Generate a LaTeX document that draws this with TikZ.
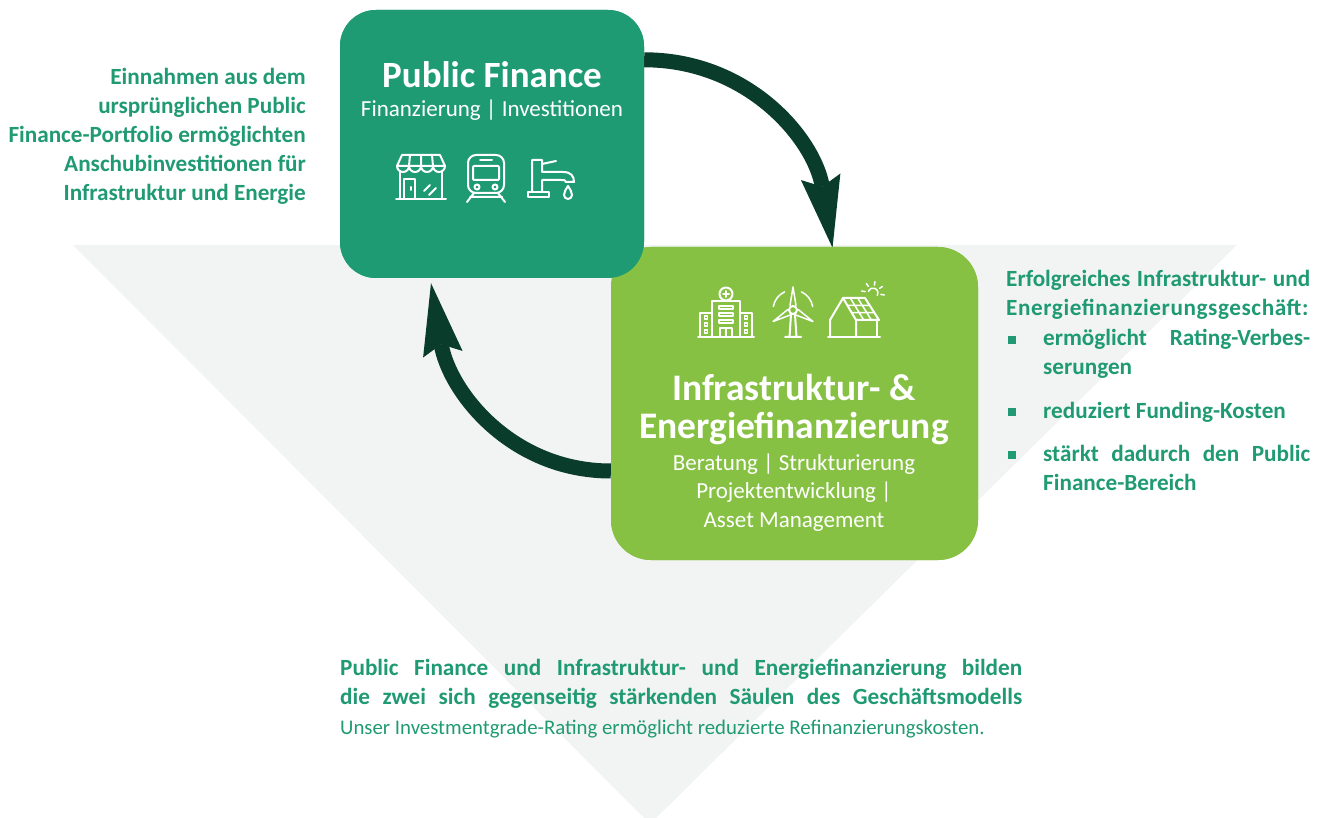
\documentclass[tikz,border=0pt]{standalone}
\usepackage{fontspec}
\setmainfont{Carlito}
\usetikzlibrary{arrows.meta}
\definecolor{pfgreen}{HTML}{1F9B74}
\definecolor{iegreen}{HTML}{86C144}
\definecolor{arrowgreen}{HTML}{0A3C2B}
\definecolor{txtgreen}{HTML}{1F9A72}
\definecolor{trigrey}{HTML}{F2F4F3}
\begin{document}
\begin{tikzpicture}[x=1pt,y=-1pt,
  boxpf/.style={fill=pfgreen, rounded corners=36pt, minimum width=304pt, minimum height=268pt, inner sep=0pt},
  boxie/.style={fill=iegreen, rounded corners=40pt, minimum width=367pt, minimum height=313pt, inner sep=0pt},
  cyclearrow/.style={draw=arrowgreen, line width=15pt, -{Stealth[length=72pt,width=40pt,inset=10pt,line width=0pt]}},
  icon/.style={draw=white, line width=2pt, line join=round, line cap=round},
  thinicon/.style={draw=white, line width=1.5pt, line join=round, line cap=round},
  wtitle/.style={inner sep=0pt, text=white, font=\bfseries\fontsize{37}{40}\selectfont, anchor=base},
  wtitleb/.style={inner sep=0pt, text=white, font=\bfseries\fontsize{37.5}{40}\selectfont, anchor=base},
  wsub/.style={inner sep=0pt, text=white, font=\fontsize{23}{28}\selectfont, anchor=base},
  gbold/.style={inner sep=0pt, text=txtgreen, font=\bfseries\fontsize{23.2}{28}\selectfont},
  greg/.style={inner sep=0pt, text=txtgreen, font=\fontsize{20.8}{26}\selectfont},
  bulletsq/.style={fill=txtgreen, minimum size=8pt, inner sep=0pt}
]
\useasboundingbox (0,0) rectangle (1326,818);
\clip (0,0) rectangle (1326,818);
% background triangle
\fill[trigrey] (73,245) -- (1237,245) -- (650,824) -- cycle;

% boxes
\path (794.5,403.5) node[boxie] (ie) {};
\path (492,144) node[boxpf] (pf) {};

% arrows
\coordinate (a1s) at ([yshift=-50pt]pf.north east);
\coordinate (a1e) at ([xshift=38pt,yshift=-1pt]ie.north);
\coordinate (a2s) at ([yshift=-67.5pt]ie.west);
\coordinate (a2e) at ([xshift=-61pt,yshift=-5pt]pf.south);
\draw[cyclearrow] (a1s) .. controls +(105,0) and +(-18,-108) .. (a1e);
\draw[cyclearrow] (a2s) .. controls +(-100,0) and +(18,108) .. (a2e);

% boxes again on top of the arrow ends
\path (794.5,403.5) node[boxie] (ie2) {};
\path (492,144) node[boxpf] (pf2) {};

% Public Finance texts
\node[wtitle] (pft) at (492,88) {Public Finance};
\node[wsub] (pfs) at (492,117) {Finanzierung | Investitionen};

% Infrastruktur texts
\node[wtitleb] (iet1) at (794,400) {Infrastruktur- \&};
\node[wtitleb] (iet2) at (794,438) {Energiefinanzierung};
\node[wsub] (ies1) at (794,470) {Beratung | Strukturierung};
\node[wsub] (ies2) at (794,498) {Projektentwicklung |};
\node[wsub] (ies3) at (794,527) {Asset Management};

% left text
\node[gbold, anchor=base east] (lt1) at (306,85) {Einnahmen aus dem};
\node[gbold, anchor=base east] (lt2) at (306,114) {ursprünglichen Public};
\node[gbold, anchor=base east] (lt3) at (306,143) {Finance-Portfolio ermöglichten};
\node[gbold, anchor=base east] (lt4) at (306,172) {Anschubinvestitionen für};
\node[gbold, anchor=base east] (lt5) at (306,201) {Infrastruktur und Energie};

% right text
\node[gbold, anchor=base west] (rt1) at (1006,287) {\makebox[304pt][s]{Erfolgreiches Infrastruktur- und}};
\node[gbold, anchor=base west] (rt2) at (1006,316) {\addfontfeature{LetterSpace=2.5}Energiefinanzierungsgeschäft:};
\node[gbold, anchor=base west] (rt3) at (1043,346) {\makebox[267pt][s]{ermöglicht Rating-Verbes-}};
\node[gbold, anchor=base west] (rt4) at (1043,375) {serungen};
\node[gbold, anchor=base west] (rt5) at (1043,418) {reduziert Funding-Kosten};
\node[gbold, anchor=base west] (rt6) at (1043,461) {\makebox[267pt][s]{stärkt dadurch den Public}};
\node[gbold, anchor=base west] (rt7) at (1043,490) {Finance-Bereich};
\node[bulletsq] (bu1) at (1012,340) {};
\node[bulletsq] (bu2) at (1012,412) {};
\node[bulletsq] (bu3) at (1012,455) {};

% bottom text
\node[gbold, anchor=base west] (bt1) at (340,675) {\makebox[682pt][s]{Public Finance und Infrastruktur- und Energiefinanzierung bilden}};
\node[gbold, anchor=base west] (bt2) at (340,704) {\makebox[682pt][s]{die zwei sich gegenseitig stärkenden Säulen des Geschäftsmodells}};
\node[greg, anchor=base west] (bt3) at (340,734) {Unser Investmentgrade-Rating ermöglicht reduzierte Refinanzierungskosten.};

% ---- icons: shop
\draw[icon] (402,155) -- (440,155) -- (445,166) -- (397,166) -- cycle;
\draw[icon] (410,155) -- (409,166) (421,155) -- (421,166) (432,155) -- (433,166);
\draw[icon] (397,166) arc (180:0:6) arc (180:0:6) arc (180:0:6) arc (180:0:6);
\draw[icon] (400,172) -- (400,199) (442,172) -- (442,199) (396,199) -- (446,199);
\draw[icon] (404,199) -- (404,179) -- (415,179) -- (415,199);
\draw[icon] (411,187) -- (411,190);
\draw[icon] (424,191) -- (430,185) (429,195) -- (436,188);
% train
\draw[icon, rounded corners=8pt] (468,155) rectangle (504,193);
\draw[icon] (480,160) -- (492,160);
\draw[icon, rounded corners=1pt] (473,166) rectangle (499,180);
\draw[icon] (477,187) circle (2.5) (495,187) circle (2.5);
\draw[icon] (470,197) -- (502,197) (474,193) -- (467,202) (498,193) -- (505,202);
% faucet
\draw[icon] (532,192) -- (532,160) -- (542,160) -- (542,172) -- (563,172) .. controls (571,172) and (574,176) .. (574,182) -- (566,182) .. controls (566,180) and (564,180) .. (561,180) -- (542,180) -- (542,192);
\draw[icon] (528,192) rectangle (549,197);
\draw[icon] (542,164) -- (556,161);
\draw[icon] (568,186) .. controls (566,189) and (564,192) .. (564,195) arc (180:0:4) .. controls (572,192) and (570,189) .. (568,186);

% ---- icons: hospital
\draw[icon] (726,294) circle (6.5);
\draw[icon] (726,291) -- (726,297) (723,294) -- (729,294);
\draw[icon] (712,301) rectangle (740,337);
\draw[icon] (712,313) -- (700,313) -- (700,337) (740,313) -- (752,313) -- (752,337);
\draw[icon] (698,337) -- (754,337);
\foreach \yy in {306,313,320} \draw[thinicon] (719,\yy) rectangle (733,\yy+3);
\foreach \yy in {319,326,333} {\draw[thinicon] (704.5,\yy) rectangle (707.5,\yy-3); \draw[thinicon] (744.5,\yy) rectangle (747.5,\yy-3);}
\draw[icon] (720,337) -- (720,328) -- (732,328) -- (732,337) (726,328) -- (726,337);
% wind turbine
\draw[icon] (793,310) circle (4);
\foreach \a in {0,120,240} \draw[thinicon, rotate around={\a:(793,310)}] (790,305.5) -- (793,287) -- (796,305.5);
\draw[icon] (791,314.5) -- (789.5,337) (795,314.5) -- (796.5,337) (785,337) -- (801,337);
\draw[thinicon] (793,310) ++(-170:20) arc (-170:-115:20);
\draw[thinicon] (793,310) ++(-65:20) arc (-65:-10:20);
% house with solar panel
\draw[icon] (830,337) -- (830,320) -- (843,298) -- (856,320) -- (856,337);
\draw[icon] (843,298) -- (865,298) -- (879,320) -- (856,320);
\draw[icon] (877,320) -- (877,337) (828,337) -- (880,337);
\draw[thinicon] (850.3,298) -- (863.7,320) (857.7,298) -- (871.3,320) (847.3,305.3) -- (869.6,305.3) (851.7,312.7) -- (874.4,312.7);
\draw[thinicon] (873,293) ++(200:5) arc (200:390:5);
\foreach \a in {-170,-125,-80,-35,10} \draw[thinicon] (873,293) ++(\a:8) -- ++(\a:3.5);
\end{tikzpicture}
\end{document}
